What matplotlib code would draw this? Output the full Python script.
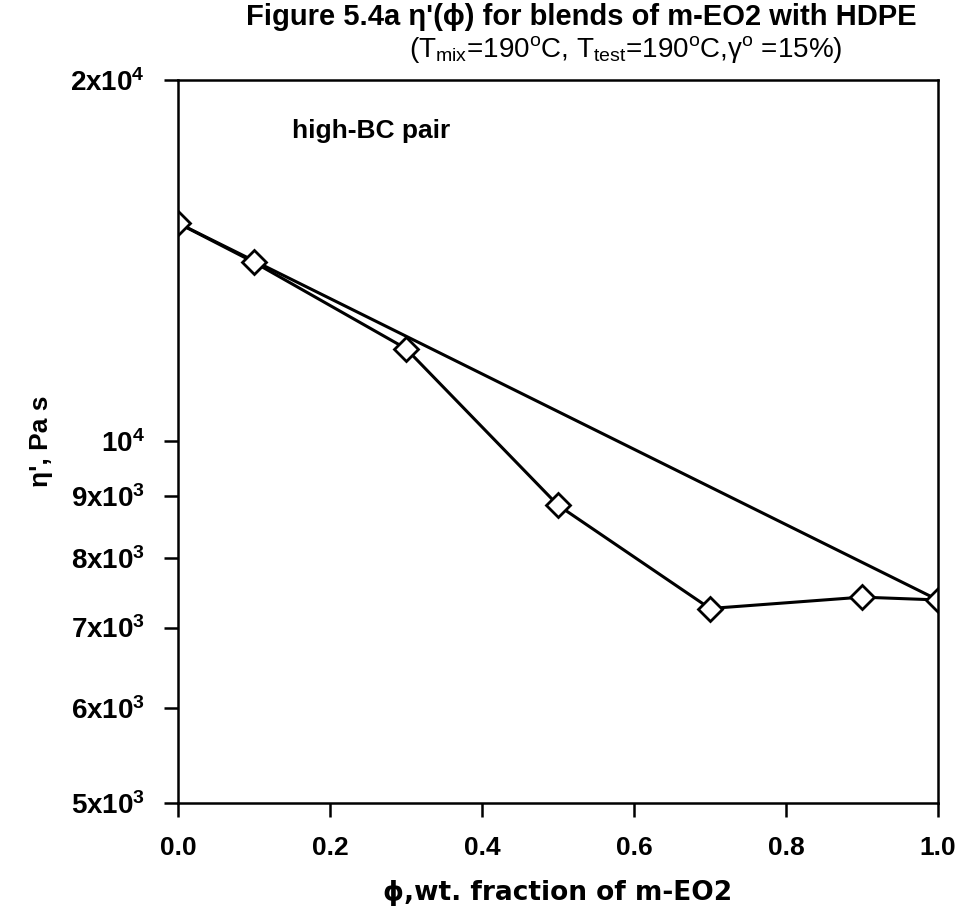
import matplotlib
matplotlib.use('Agg')
import matplotlib.pyplot as plt
from matplotlib.ticker import FixedLocator, NullLocator

plt.rcParams['font.family'] = ['Liberation Sans', 'DejaVu Sans']
plt.rcParams['mathtext.fontset'] = 'custom'
plt.rcParams['mathtext.rm'] = 'Liberation Sans:bold'
plt.rcParams['mathtext.it'] = 'Liberation Sans:bold'
plt.rcParams['mathtext.default'] = 'rm'

# measured blend data
phi = [0.0, 0.1, 0.3, 0.5, 0.7, 0.9, 1.0]
eta = [15200, 14100, 11950, 8850, 7260, 7420, 7380]

# log-additivity line between the pure components
phi_add = [0.0, 1.0]
eta_add = [15200, 7380]

ytick_vals = [5000, 6000, 7000, 8000, 9000, 10000, 20000]
ytick_labels = ['5x10$^{3}$', '6x10$^{3}$', '7x10$^{3}$', '8x10$^{3}$',
                '9x10$^{3}$', '10$^{4}$', '2x10$^{4}$']
xtick_vals = [0.0, 0.2, 0.4, 0.6, 0.8, 1.0]

fig = plt.figure(figsize=(9.64, 9.19), dpi=100)
ax = fig.add_axes([0.1846, 0.1262, 0.973 - 0.1846, 0.913 - 0.1262])

ax.plot(phi_add, eta_add, color='black', lw=2.2)
ax.plot(phi, eta, color='black', lw=2.2, marker='D', markersize=12,
        markerfacecolor='white', markeredgecolor='black', markeredgewidth=2)

ax.set_yscale('log')
ax.set_ylim(5000, 20000)
ax.set_xlim(0, 1.0)
ax.yaxis.set_major_locator(FixedLocator(ytick_vals))
ax.yaxis.set_minor_locator(NullLocator())
ax.set_yticklabels(ytick_labels)
ax.set_xticks(xtick_vals)
ax.set_xticklabels(['%.1f' % v for v in xtick_vals])

for sp in ax.spines.values():
    sp.set_linewidth(1.8)
ax.tick_params(direction='out', length=10, width=1.8)
ax.tick_params(axis='x', labelsize=19, pad=14)
ax.tick_params(axis='y', labelsize=20, pad=14)
for lab in ax.get_xticklabels() + ax.get_yticklabels():
    lab.set_fontweight('bold')

ax.set_xlabel('ϕ,wt. fraction of m-EO2', fontsize=19, fontweight='bold', labelpad=14,
              family=['DejaVu Sans'])
ax.set_ylabel("η', Pa s", fontsize=19, fontweight='bold', labelpad=12)

ax.text(0.15, 0.93, 'high-BC pair', transform=ax.transAxes, fontsize=19,
        fontweight='bold', ha='left', va='center')

fig.text(0.603, 0.982, "Figure 5.4a η'(ϕ) for blends of m-EO2 with HDPE",
         ha='center', va='center', fontsize=21, fontweight='bold')
fig.text(0.649, 0.946,
         r"(T$_{\mathregular{mix}}$=190$^{\mathregular{o}}$C, T$_{\mathregular{test}}$=190$^{\mathregular{o}}$C,γ$^{\mathregular{o}}$ =15%)",
         ha='center', va='center', fontsize=20)

fig.savefig('out.png', dpi=100)
